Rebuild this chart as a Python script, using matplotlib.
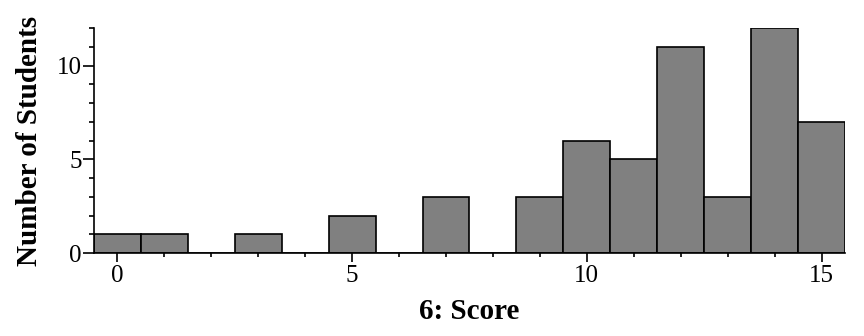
import matplotlib
matplotlib.use("Agg")
import matplotlib.pyplot as plt
from matplotlib.ticker import MultipleLocator

scores = [0, 1, 2, 3, 4, 5, 6, 7, 8, 9, 10, 11, 12, 13, 14, 15]
counts = [1, 1, 0, 1, 0, 2, 0, 3, 0, 3, 6, 5, 11, 3, 12, 7]
x_label = "6: Score"
y_label = "Number of Students"

plt.rcParams['font.family'] = ['Liberation Serif', 'DejaVu Serif']

fig = plt.figure(figsize=(8.64, 3.36), dpi=100)
ax = fig.add_axes([94/864, 1-253/336, (845-94)/864, (253-28)/336])

ax.bar(scores, counts, width=1.0, color='#808080', edgecolor='black', linewidth=1.2)

ax.set_xlim(-0.5, 15.5)
ax.set_ylim(0, 12)
ax.spines['top'].set_visible(False)
ax.spines['right'].set_visible(False)
ax.spines['left'].set_linewidth(1.2)
ax.spines['bottom'].set_linewidth(1.2)

ax.xaxis.set_major_locator(MultipleLocator(5))
ax.xaxis.set_minor_locator(MultipleLocator(1))
ax.yaxis.set_major_locator(MultipleLocator(5))
ax.yaxis.set_minor_locator(MultipleLocator(1))

ax.tick_params(axis='x', which='major', length=6.5, width=1.2, labelsize=18, pad=2)
ax.tick_params(axis='x', which='minor', length=2.6, width=1.2)
ax.tick_params(axis='y', which='major', length=7.7, width=1.2, labelsize=18, pad=1)
ax.tick_params(axis='y', which='minor', length=3.6, width=1.2)

ax.set_xlabel(x_label, fontsize=21, fontweight='bold', labelpad=8)
ax.set_ylabel(y_label, fontsize=21, fontweight='bold', labelpad=10)

fig.savefig("out.png", dpi=100)
